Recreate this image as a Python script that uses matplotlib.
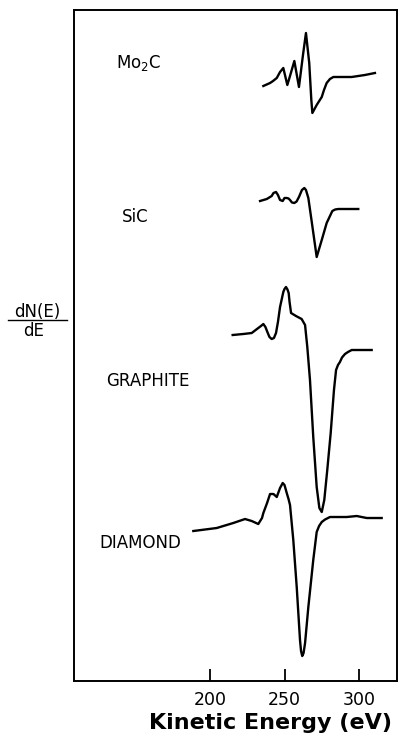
import matplotlib
matplotlib.use("Agg")
import matplotlib.pyplot as plt

# Auger spectra (kinetic energy in eV, signal in arbitrary units)
mo2c_ev = [235.8, 240.3, 242.3, 244.8, 247.0, 249.2, 251.9, 253.7, 256.6, 259.7,
           262.4, 264.4, 266.6, 268.0, 268.7, 271.6, 275.0, 276.5, 278.3, 280.5,
           282.8, 295.1, 304.0, 310.7]
mo2c_y = [595, 598, 600, 603, 609, 613, 596, 605, 620, 594,
          626, 648, 618, 581, 568, 576, 584, 591, 598, 602,
          604, 604, 606, 608]

sic_ev = [233.6, 238.1, 241.4, 242.6, 244.3, 245.6, 247.0, 248.8, 250.0, 251.5,
          252.7, 253.7, 255.0, 256.6, 258.1, 259.7, 261.7, 263.3, 264.4, 266.0,
          268.3, 271.6, 275.0, 278.3, 282.1, 284.0, 286.1, 299.5]
sic_y = [480, 482, 485, 488, 489, 486, 481, 480, 483, 483,
         482.5, 481, 478.5, 478, 479.5, 484, 491, 493, 491, 483,
         459, 424, 441, 458, 470, 471.5, 472, 472]

graphite_ev = [215.2, 222.3, 228.0, 232.4, 234.2, 235.8, 237.2, 238.5, 239.9, 241.4,
               242.9, 244.3, 245.6, 247.0, 249.2, 250.0, 251.0, 252.0, 252.8, 253.4,
               254.4, 257.7, 261.5, 263.8, 265.3, 267.1, 269.3, 271.6, 273.4, 275.0,
               276.7, 278.7, 281.0, 283.2, 284.6, 285.9, 287.2, 288.6, 290.6, 292.6,
               295.1, 300.7, 308.5]
graphite_y = [346, 347, 348, 353, 355, 357, 354, 349, 344, 342,
              343, 348, 359, 374, 389, 392, 394, 391.5, 388, 379,
              368, 365, 362, 356, 334, 301, 244, 194, 173, 169,
              181, 211, 248, 291, 311, 316, 319, 323.5, 327, 329,
              331, 331, 331]

diamond_ev = [188.8, 204.5, 215.6, 223.5, 228.0, 230.2, 232.4, 234.9, 235.8, 238.3,
              240.3, 242.6, 244.8, 247.0, 248.8, 250.0, 251.5, 252.7, 253.7, 255.9,
              258.2, 260.4, 261.1, 261.9, 262.8, 263.8, 266.0, 269.3, 271.6, 273.2,
              275.0, 277.2, 280.5, 291.7, 298.5, 305.2, 315.2]
diamond_y = [150, 153, 158, 162, 160, 158.5, 157, 163, 168, 178,
             187, 187, 184, 193, 198, 196, 188, 182, 176, 141,
             94, 41, 30, 25, 28, 38, 74, 121, 149, 155,
             159, 161.5, 164, 164, 165, 163, 163]

labels = ["Mo$_2$C", "SiC", "GRAPHITE", "DIAMOND"]
label_x = [137, 141, 130, 126]
label_y = [618, 464, 300, 138]

xticks = [200, 250, 300]

fig = plt.figure(figsize=(4.01, 7.40), dpi=100)
ax = fig.add_axes([0.1845, 0.0797, 0.8055, 0.9068])

for ev, y in [(mo2c_ev, mo2c_y), (sic_ev, sic_y), (graphite_ev, graphite_y), (diamond_ev, diamond_y)]:
    ax.plot(ev, y, color="black", lw=1.7, solid_joinstyle="round")

for i in range(len(labels)):
    ax.text(label_x[i], label_y[i], labels[i], fontsize=12, va="center", ha="left")

ax.set_xlim(108.7, 325.5)
ax.set_ylim(0, 671)
ax.set_xticks(xticks)
ax.set_xticklabels([str(t) for t in xticks], fontsize=12.5)
ax.set_yticks([])
ax.tick_params(axis="x", direction="in", length=9, width=1.3, pad=7)
for s in ax.spines.values():
    s.set_linewidth(1.4)

ax.set_xlabel("Kinetic Energy (eV)", fontsize=16, fontweight="bold", labelpad=3, x=0.607, ha="center")

# y label as a stacked fraction
fig.text(0.092, 0.578, "dN(E)", fontsize=12, ha="center", va="center")
fig.text(0.084, 0.553, "dE", fontsize=12, ha="center", va="center")
fig.add_artist(plt.Line2D([0.02, 0.167], [0.568, 0.568], color="black", lw=1.0))

fig.savefig("out.png", dpi=100)
